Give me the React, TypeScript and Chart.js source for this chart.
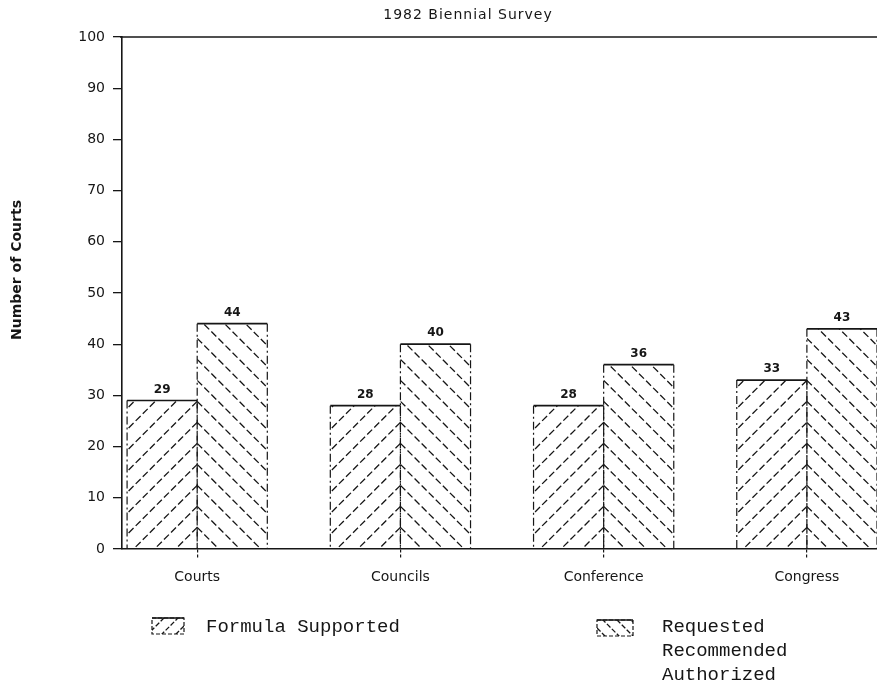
import React, { useEffect, useRef } from 'react';
import { Chart, registerables } from 'chart.js';

Chart.register(...registerables);

// ---- data ----
const TITLE = '1982 Biennial Survey';
const Y_TITLE = 'Number of Courts';
const categories = ['Courts', 'Councils', 'Conference', 'Congress'];
const formulaSupported = [29, 28, 28, 33];
const requestedRecommendedAuthorized = [44, 40, 36, 43];
const seriesNames = ['Formula Supported', 'Requested Recommended Authorized'];
const legendLines1 = ['Formula Supported'];
const legendLines2 = ['Requested', 'Recommended', 'Authorized'];
const Y_MIN = 0;
const Y_MAX = 100;
const Y_STEP = 10;
const X_MIN = -0.37;
const X_MAX = 3.345;

const INK = '#161616';
const SANS = 'DejaVu Sans';
const MONO = 'Liberation Mono';

function drawHatch(
  ctx: CanvasRenderingContext2D,
  l: number, t: number, r: number, b: number,
  anchorX: number, dir: number, baseY: number, s: number, dash: number[]
) {
  const w = r - l;
  ctx.save();
  ctx.beginPath();
  ctx.rect(l, t, w, b - t);
  ctx.clip();
  ctx.strokeStyle = INK;
  ctx.lineWidth = 1.3;
  ctx.setLineDash(dash);
  ctx.beginPath();
  for (let y0 = baseY; y0 > t - w - s; y0 -= s) {
    ctx.moveTo(anchorX, y0);
    ctx.lineTo(anchorX + dir * (w + 4), y0 + w + 4);
  }
  ctx.stroke();
  ctx.restore();
}

const decorPlugin = {
  id: 'decor',
  afterDatasetsDraw(chart: any) {
    const ctx: CanvasRenderingContext2D = chart.ctx;
    const area = chart.chartArea;
    chart.data.datasets.forEach((ds: any, di: number) => {
      const meta = chart.getDatasetMeta(di);
      const dir = di === 0 ? -1 : 1;
      meta.data.forEach((el: any, i: number) => {
        const p = el.getProps(['x', 'y', 'base', 'width'], true);
        const l = p.x - p.width / 2;
        const r = p.x + p.width / 2;
        const t = p.y;
        const b = p.base;
        const anchor = dir === -1 ? r : l;
        drawHatch(ctx, l, t, r, b, anchor, dir, b, 21, [7, 3]);
        ctx.save();
        ctx.strokeStyle = INK;
        // top edge solid
        ctx.lineWidth = 1.7;
        ctx.setLineDash([]);
        ctx.beginPath();
        ctx.moveTo(l, t);
        ctx.lineTo(r, t);
        ctx.stroke();
        // side edges dashed
        ctx.lineWidth = 1.2;
        ctx.setLineDash([8, 3, 2, 3]);
        ctx.beginPath();
        ctx.moveTo(l, t);
        ctx.lineTo(l, b);
        ctx.moveTo(r, t);
        ctx.lineTo(r, b);
        ctx.stroke();
        // value label
        ctx.setLineDash([]);
        ctx.fillStyle = INK;
        ctx.font = `bold 12px "${SANS}"`;
        ctx.textAlign = 'center';
        ctx.textBaseline = 'alphabetic';
        ctx.fillText(String(ds.data[i].y), p.x, t - 8);
        ctx.restore();
      });
    });
    // top frame line
    ctx.save();
    ctx.strokeStyle = INK;
    ctx.lineWidth = 1.5;
    ctx.beginPath();
    ctx.moveTo(area.left - 2, area.top);
    ctx.lineTo(area.right, area.top);
    ctx.stroke();
    ctx.restore();
  },
  afterDraw(chart: any) {
    const ctx: CanvasRenderingContext2D = chart.ctx;
    const area = chart.chartArea;
    ctx.save();
    ctx.fillStyle = INK;
    // title
    ctx.font = `14px "${SANS}"`;
    (ctx as any).letterSpacing = '1px';
    ctx.textAlign = 'center';
    ctx.textBaseline = 'middle';
    ctx.fillText(TITLE, 468, 15);
    (ctx as any).letterSpacing = '0px';
    // y title
    ctx.save();
    ctx.translate(17, (area.top + area.bottom) / 2 - 23);
    ctx.rotate(-Math.PI / 2);
    ctx.font = `bold 14px "${SANS}"`;
    ctx.fillText(Y_TITLE, 0, 0);
    ctx.restore();

    // legend
    const drawBox = (x: number, y: number, w: number, h: number, dir: number) => {
      const anchor = dir === -1 ? x + w : x;
      drawHatch(ctx, x, y, x + w, y + h, anchor, dir, y + h + 6, 14, [5, 2]);
      ctx.save();
      ctx.strokeStyle = INK;
      ctx.lineWidth = 1.2;
      ctx.setLineDash([4, 2]);
      ctx.strokeRect(x, y, w, h);
      ctx.setLineDash([]);
      ctx.lineWidth = 1.6;
      ctx.beginPath();
      ctx.moveTo(x, y);
      ctx.lineTo(x + w, y);
      ctx.stroke();
      ctx.restore();
    };
    drawBox(152, 618, 32, 16, -1);
    drawBox(597, 620, 36, 16, 1);
    ctx.fillStyle = INK;
    ctx.font = `19px "${MONO}"`;
    ctx.textAlign = 'left';
    ctx.textBaseline = 'middle';
    legendLines1.forEach((s, i) => ctx.fillText(s, 206, 627 + i * 24));
    legendLines2.forEach((s, i) => ctx.fillText(s, 662, 627 + i * 24));
    ctx.restore();
  },
};

export default function App() {
  const ref = useRef<HTMLCanvasElement | null>(null);
  useEffect(() => {
    if (!ref.current) return;
    const chart = new Chart(ref.current, {
      type: 'bar',
      data: {
        datasets: [
          {
            label: seriesNames[0],
            data: formulaSupported.map((v, i) => ({ x: i, y: v })),
            backgroundColor: 'rgba(0,0,0,0)',
            borderWidth: 0,
          },
          {
            label: seriesNames[1],
            data: requestedRecommendedAuthorized.map((v, i) => ({ x: i, y: v })),
            backgroundColor: 'rgba(0,0,0,0)',
            borderWidth: 0,
          },
        ],
      },
      options: {
        animation: false,
        responsive: false,
        events: [],
        categoryPercentage: 0.69,
        barPercentage: 1.0,
        layout: { padding: { top: 37, left: 0, right: 0, bottom: 0 } },
        plugins: {
          legend: { display: false },
          title: { display: false },
          tooltip: { enabled: false },
        },
        scales: {
          x: {
            type: 'linear',
            min: X_MIN,
            max: X_MAX,
            offset: false,
            afterBuildTicks: (s: any) => {
              s.ticks = categories.map((_, i) => ({ value: i }));
            },
            afterFit: (s: any) => {
              s.height = 134;
            },
            ticks: {
              callback: (v: any) => categories[v] ?? '',
              autoSkip: false,
              maxRotation: 0,
              font: { family: SANS, size: 14 },
              color: INK,
              padding: 11,
            },
            grid: {
              drawOnChartArea: false,
              drawTicks: true,
              tickLength: 9,
              color: INK,
              lineWidth: 1.2,
              offset: false,
              tickBorderDash: [3, 2],
            },
            border: { display: true, color: INK, width: 1.6 },
          },
          y: {
            min: Y_MIN,
            max: Y_MAX,
            ticks: {
              stepSize: Y_STEP,
              font: { family: SANS, size: 14 },
              color: INK,
              padding: 8,
            },
            afterFit: (s: any) => {
              s.width = 122;
            },
            grid: {
              drawOnChartArea: false,
              drawTicks: true,
              tickLength: 9,
              color: INK,
              lineWidth: 1.3,
            },
            border: { display: true, color: INK, width: 1.6 },
          },
        },
      } as any,
      plugins: [decorPlugin],
    });
    return () => chart.destroy();
  }, []);
  return (
    <canvas
      ref={ref}
      width={877}
      height={683}
      style={{ position: 'absolute', left: 0, top: 0, width: 877, height: 683, background: '#fff' }}
    />
  );
}
